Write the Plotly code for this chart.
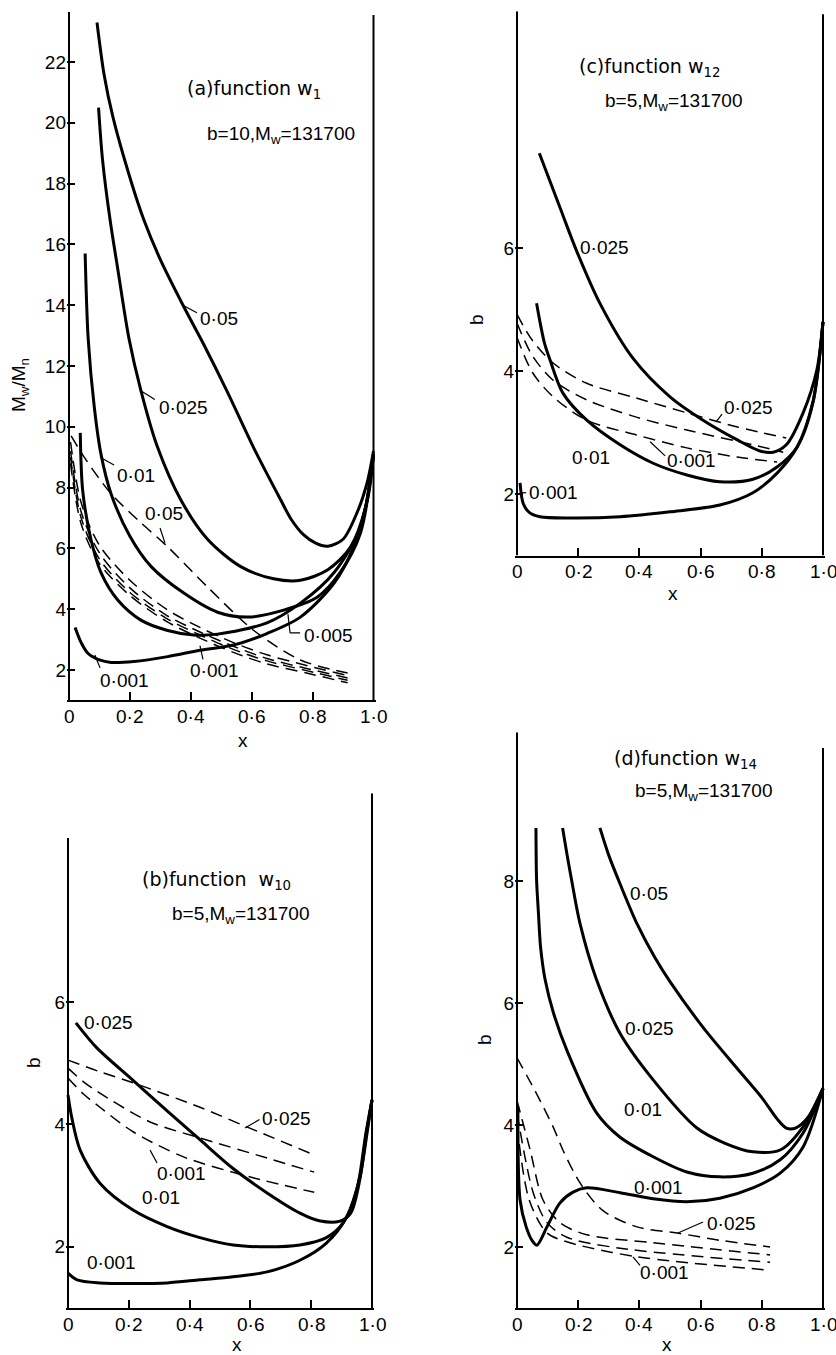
import plotly.graph_objects as go

W, H = 836, 1355
NUM_FONT = "Liberation Sans, Arial, sans-serif"
TTL_FONT = "DejaVu Sans, sans-serif"
FS = 19

# ---------------- tick labels ----------------
x_tickvals = [0.2, 0.4, 0.6, 0.8]
x_labels_vals = [0, 0.2, 0.4, 0.6, 0.8, 1.0]
x_labels_text = ["0", "0·2", "0·4", "0·6", "0·8", "1·0"]
a_yticks = [2, 4, 6, 8, 10, 12, 14, 16, 18, 20, 22]
c_yticks = [2, 4, 6]
b_yticks = [2, 4, 6]
d_yticks = [2, 4, 6, 8]

# ---------------- panel (a): function w1 ----------------
a_s005_x = [0.092, 0.115, 0.144, 0.203, 0.246, 0.30, 0.377, 0.443, 0.52, 0.607, 0.695, 0.73, 0.77, 0.81, 0.85, 0.90, 0.947, 0.98, 1.0]
a_s005_y = [23.3, 21.6, 20.2, 18.1, 16.8, 15.5, 13.95, 12.7, 11.15, 9.3, 7.6, 6.95, 6.45, 6.17, 6.07, 6.3, 7.2, 8.2, 9.2]
a_s0025_x = [0.097, 0.11, 0.135, 0.16, 0.197, 0.236, 0.29, 0.367, 0.455, 0.564, 0.672, 0.76, 0.85, 0.925, 0.98, 1.0]
a_s0025_y = [20.5, 18.8, 16.8, 15.2, 12.9, 11.2, 9.35, 7.6, 6.3, 5.4, 5.0, 4.95, 5.3, 6.05, 7.6, 9.1]
a_s001_x = [0.053, 0.063, 0.083, 0.105, 0.138, 0.2, 0.27, 0.377, 0.488, 0.587, 0.705, 0.816, 0.89, 0.957, 1.0]
a_s001_y = [15.7, 12.9, 10.65, 9.1, 7.8, 6.4, 5.4, 4.53, 3.9, 3.74, 3.97, 4.4, 5.2, 6.5, 9.1]
a_s0005_x = [0.037, 0.045, 0.072, 0.105, 0.16, 0.236, 0.324, 0.41, 0.488, 0.65, 0.76, 0.87, 0.957, 1.0]
a_s0005_y = [9.8, 7.9, 6.3, 5.2, 4.3, 3.64, 3.3, 3.15, 3.18, 3.55, 4.2, 5.2, 6.7, 9.1]
a_s0001_x = [0.02, 0.04, 0.062, 0.1, 0.138, 0.213, 0.324, 0.43, 0.54, 0.65, 0.76, 0.87, 0.935, 0.975, 1.0]
a_s0001_y = [3.4, 2.9, 2.55, 2.33, 2.25, 2.28, 2.44, 2.65, 2.82, 3.2, 3.74, 4.85, 6.05, 7.4, 9.1]

a_d005_x = [0.007, 0.05, 0.138, 0.23, 0.324, 0.455, 0.607, 0.76, 0.915]
a_d005_y = [9.7, 9.0, 7.8, 6.9, 6.05, 4.73, 3.3, 2.33, 1.9]
a_d_x = [0.005, 0.04, 0.1, 0.2, 0.32, 0.43, 0.54, 0.65, 0.78, 0.915]
a_d0025_y = [9.5, 7.5, 6.1, 4.95, 4.0, 3.4, 2.9, 2.5, 2.15, 1.82]
a_d001_y = [9.2, 7.2, 5.85, 4.7, 3.8, 3.25, 2.78, 2.38, 2.05, 1.74]
a_d0005_y = [9.0, 7.0, 5.65, 4.55, 3.7, 3.15, 2.68, 2.3, 1.98, 1.66]
a_d0001_y = [8.8, 6.8, 5.5, 4.45, 3.6, 3.05, 2.58, 2.2, 1.9, 1.58]

# ---------------- panel (c): function w12 ----------------
c_s0025_x = [0.073, 0.141, 0.195, 0.271, 0.38, 0.5, 0.608, 0.72, 0.794, 0.837, 0.88, 0.935, 0.98, 1.0]
c_s0025_y = [7.54, 6.65, 5.95, 5.1, 4.2, 3.58, 3.2, 2.88, 2.7, 2.68, 2.8, 3.32, 4.02, 4.8]
c_s001_x = [0.064, 0.075, 0.09, 0.108, 0.15, 0.228, 0.337, 0.445, 0.555, 0.663, 0.771, 0.85, 0.915, 0.967, 1.0]
c_s001_y = [5.1, 4.8, 4.45, 4.18, 3.64, 3.2, 2.8, 2.5, 2.31, 2.2, 2.24, 2.44, 2.76, 3.48, 4.8]
c_s0001_x = [0.01, 0.02, 0.04, 0.075, 0.173, 0.337, 0.5, 0.663, 0.771, 0.85, 0.915, 0.967, 1.0]
c_s0001_y = [2.18, 1.85, 1.7, 1.63, 1.61, 1.63, 1.71, 1.82, 2.02, 2.34, 2.76, 3.5, 4.8]

c_d0025_x = [0.0, 0.05, 0.118, 0.228, 0.39, 0.555, 0.72, 0.88]
c_d0025_y = [4.92, 4.5, 4.13, 3.8, 3.56, 3.32, 3.09, 2.91]
c_d001_x = [0.0, 0.05, 0.118, 0.228, 0.39, 0.555, 0.771, 0.87]
c_d001_y = [4.78, 4.25, 3.85, 3.53, 3.25, 3.04, 2.8, 2.68]
c_d0001_x = [0.0, 0.05, 0.118, 0.228, 0.39, 0.555, 0.72, 0.85]
c_d0001_y = [4.55, 3.98, 3.58, 3.2, 2.96, 2.75, 2.6, 2.52]

# ---------------- panel (b): function w10 ----------------
b_s0025_x = [0.026, 0.095, 0.214, 0.326, 0.434, 0.543, 0.655, 0.763, 0.83, 0.895, 0.93, 0.96, 0.98, 1.0]
b_s0025_y = [5.66, 5.25, 4.72, 4.22, 3.75, 3.28, 2.88, 2.55, 2.42, 2.42, 2.55, 3.1, 3.8, 4.4]
b_s001_x = [0.0, 0.012, 0.04, 0.105, 0.214, 0.326, 0.434, 0.543, 0.655, 0.763, 0.85, 0.905, 0.95, 0.98, 1.0]
b_s001_y = [4.48, 4.12, 3.58, 3.04, 2.6, 2.33, 2.15, 2.03, 2.0, 2.03, 2.15, 2.39, 2.93, 3.86, 4.4]
b_s0001_x = [0.0, 0.03, 0.105, 0.214, 0.326, 0.434, 0.543, 0.655, 0.763, 0.85, 0.917, 0.96, 0.985, 1.0]
b_s0001_y = [1.57, 1.46, 1.41, 1.4, 1.41, 1.46, 1.51, 1.59, 1.78, 2.06, 2.49, 3.14, 3.9, 4.4]

b_d0025_x = [0.0, 0.105, 0.214, 0.434, 0.588, 0.81]
b_d0025_y = [5.05, 4.86, 4.68, 4.28, 3.96, 3.5]
b_d001_x = [0.0, 0.05, 0.105, 0.27, 0.434, 0.655, 0.81]
b_d001_y = [4.92, 4.7, 4.51, 4.04, 3.78, 3.45, 3.22]
b_d0001_x = [0.0, 0.05, 0.105, 0.214, 0.38, 0.6, 0.81]
b_d0001_y = [4.76, 4.5, 4.28, 3.88, 3.47, 3.14, 2.89]

# ---------------- panel (d): function w14 ----------------
d_s005_x = [0.271, 0.30, 0.337, 0.392, 0.45, 0.5, 0.608, 0.719, 0.80, 0.85, 0.88, 0.91, 0.95, 1.0]
d_s005_y = [8.87, 8.42, 7.95, 7.3, 6.75, 6.35, 5.6, 4.93, 4.45, 4.1, 3.95, 3.95, 4.12, 4.6]
d_s0025_x = [0.149, 0.164, 0.179, 0.206, 0.26, 0.337, 0.445, 0.588, 0.68, 0.771, 0.86, 0.935, 1.0]
d_s0025_y = [8.87, 8.42, 8.0, 7.3, 6.38, 5.5, 4.74, 3.95, 3.7, 3.56, 3.59, 3.97, 4.6]
d_s001_x = [0.062, 0.064, 0.070, 0.077, 0.092, 0.119, 0.165, 0.26, 0.337, 0.445, 0.555, 0.663, 0.771, 0.86, 0.935, 1.0]
d_s001_y = [8.87, 8.02, 7.48, 6.92, 6.38, 5.84, 5.2, 4.2, 3.8, 3.48, 3.23, 3.15, 3.21, 3.43, 3.87, 4.6]
d_s0001_x = [0.003, 0.01, 0.03, 0.05, 0.065, 0.098, 0.14, 0.183, 0.228, 0.337, 0.445, 0.555, 0.663, 0.771, 0.86, 0.935, 1.0]
d_s0001_y = [4.3, 2.77, 2.33, 2.1, 2.03, 2.33, 2.72, 2.9, 2.97, 2.89, 2.79, 2.74, 2.8, 2.97, 3.21, 3.64, 4.6]

d_d0025_x = [0.0, 0.06, 0.118, 0.15, 0.206, 0.28, 0.392, 0.523, 0.663, 0.827]
d_d0025_y = [5.1, 4.55, 3.97, 3.59, 3.05, 2.6, 2.33, 2.23, 2.11, 2.0]
d_d001_x = [0.0, 0.043, 0.085, 0.14, 0.228, 0.445, 0.827]
d_d001_y = [4.4, 3.59, 2.77, 2.4, 2.2, 2.07, 1.87]
d_d0005_x = [0.0, 0.053, 0.098, 0.163, 0.337, 0.827]
d_d0005_y = [4.2, 2.89, 2.4, 2.16, 1.98, 1.75]
d_d0001_x = [0.0, 0.04, 0.098, 0.173, 0.392, 0.827]
d_d0001_y = [4.0, 2.77, 2.23, 2.07, 1.84, 1.62]

# ---------------- panel geometry (pixels) ----------------
PAD = 2.0
panels = {
    "a": dict(ax="", x0=69, x1=373.5, yb=700.4, k=30.4, ytop=23.65, ltop=23.65, rtop=23.55, yticks=a_yticks),
    "c": dict(ax="2", x0=517, x1=823, yb=555.5, k=61.5, ytop=9.85, ltop=9.85, rtop=9.8, yticks=c_yticks),
    "b": dict(ax="3", x0=68, x1=372, yb=1308, k=61.2, ytop=9.41, ltop=8.68, rtop=9.41, yticks=b_yticks),
    "d": dict(ax="4", x0=517, x1=823, yb=1308, k=61.0, ytop=10.44, ltop=10.44, rtop=10.18, yticks=d_yticks),
}

fig = go.Figure()


def add_line(panel, x, y, dashed=False):
    ax = panels[panel]["ax"]
    fig.add_trace(go.Scatter(
        x=x, y=y, mode="lines", xaxis="x" + ax, yaxis="y" + ax,
        line=dict(color="black", width=1.5 if dashed else 3.0,
                  dash="12px,7px" if dashed else "solid",
                  shape="spline", smoothing=0.85),
        showlegend=False, hoverinfo="skip"))


for xs, ys in [(a_s005_x, a_s005_y), (a_s0025_x, a_s0025_y), (a_s001_x, a_s001_y),
               (a_s0005_x, a_s0005_y), (a_s0001_x, a_s0001_y)]:
    add_line("a", xs, ys)
for ys in [a_d0025_y, a_d001_y, a_d0005_y, a_d0001_y]:
    add_line("a", a_d_x, ys, dashed=True)
add_line("a", a_d005_x, a_d005_y, dashed=True)

for xs, ys in [(c_s0025_x, c_s0025_y), (c_s001_x, c_s001_y), (c_s0001_x, c_s0001_y)]:
    add_line("c", xs, ys)
for xs, ys in [(c_d0025_x, c_d0025_y), (c_d001_x, c_d001_y), (c_d0001_x, c_d0001_y)]:
    add_line("c", xs, ys, dashed=True)

for xs, ys in [(b_s0025_x, b_s0025_y), (b_s001_x, b_s001_y), (b_s0001_x, b_s0001_y)]:
    add_line("b", xs, ys)
for xs, ys in [(b_d0025_x, b_d0025_y), (b_d001_x, b_d001_y), (b_d0001_x, b_d0001_y)]:
    add_line("b", xs, ys, dashed=True)

for xs, ys in [(d_s005_x, d_s005_y), (d_s0025_x, d_s0025_y), (d_s001_x, d_s001_y), (d_s0001_x, d_s0001_y)]:
    add_line("d", xs, ys)
for xs, ys in [(d_d0025_x, d_d0025_y), (d_d001_x, d_d001_y), (d_d0005_x, d_d0005_y), (d_d0001_x, d_d0001_y)]:
    add_line("d", xs, ys, dashed=True)

layout = dict(width=W, height=H, margin=dict(l=0, r=0, t=0, b=0),
              paper_bgcolor="white", plot_bgcolor="white", showlegend=False)
shapes = []
annotations = []

for key, p in panels.items():
    ax = p["ax"]
    span = p["x1"] - p["x0"]
    padu = PAD / span
    ytop_px = p["yb"] - (p["ytop"] - 1.0) * p["k"]
    layout["xaxis" + ax] = dict(
        domain=[(p["x0"] - PAD) / W, (p["x1"] + PAD) / W], range=[-padu, 1 + padu],
        anchor="y" + ax, showgrid=False, zeroline=False,
        showline=True, linecolor="black", linewidth=2,
        ticks="inside", ticklen=8, tickwidth=1.5, tickcolor="black",
        tickvals=x_tickvals, showticklabels=False, fixedrange=True)
    layout["yaxis" + ax] = dict(
        domain=[1 - p["yb"] / H, 1 - ytop_px / H], range=[1.0, p["ytop"]],
        anchor="x" + ax, showgrid=False, zeroline=False, showline=False,
        ticks="inside", ticklen=8, tickwidth=1.5, tickcolor="black",
        tickvals=p["yticks"], ticktext=[str(v) for v in p["yticks"]],
        tickfont=dict(family=NUM_FONT, size=FS, color="black"), fixedrange=True)
    xr, yr = "x" + ax, "y" + ax
    shapes.append(dict(type="line", xref=xr, yref=yr, x0=0, x1=0, y0=1.0, y1=p["ltop"],
                       line=dict(color="black", width=2)))
    shapes.append(dict(type="line", xref=xr, yref=yr, x0=1, x1=1, y0=1.0, y1=p["rtop"],
                       line=dict(color="black", width=2)))
    for v, t in zip(x_labels_vals, x_labels_text):
        annotations.append(dict(xref=xr, yref="paper", x=v, y=1 - (p["yb"] + 16) / H,
                                text=t, showarrow=False, xanchor="center", yanchor="middle",
                                font=dict(family=NUM_FONT, size=FS, color="black")))

# curve labels: (panel, text, x, y)
curve_labels = [
    ("a", "0·05", 0.425, 13.55), ("a", "0·025", 0.289, 10.65), ("a", "0·01", 0.151, 8.41),
    ("a", "0·05", 0.243, 7.16), ("a", "0·005", 0.765, 3.15), ("a", "0·001", 0.391, 2.0),
    ("a", "0·001", 0.095, 1.67),
    ("c", "0·025", 0.2, 6.0), ("c", "0·025", 0.67, 3.41), ("c", "0·01", 0.173, 2.6),
    ("c", "0·001", 0.484, 2.55), ("c", "0·001", 0.033, 2.02),
    ("b", "0·025", 0.046, 5.66), ("b", "0·025", 0.632, 4.1), ("b", "0·001", 0.286, 3.2),
    ("b", "0·01", 0.237, 2.81), ("b", "0·001", 0.056, 1.74),
    ("d", "0·05", 0.363, 7.8), ("d", "0·025", 0.346, 5.59), ("d", "0·01", 0.343, 4.25),
    ("d", "0·001", 0.376, 2.98), ("d", "0·025", 0.614, 2.39), ("d", "0·001", 0.395, 1.59),
]
for pn, t, x, y in curve_labels:
    ax = panels[pn]["ax"]
    annotations.append(dict(xref="x" + ax, yref="y" + ax, x=x, y=y, text=t, showarrow=False,
                            xanchor="left", yanchor="middle",
                            font=dict(family=NUM_FONT, size=FS, color="black")))

leaders = [
    ("a", [(0.374, 14.0), (0.42, 13.75)]),
    ("a", [(0.233, 11.2), (0.282, 10.9)]),
    ("a", [(0.102, 9.0), (0.148, 8.74)]),
    ("a", [(0.315, 6.18), (0.299, 6.67)]),
    ("a", [(0.719, 3.84), (0.726, 3.22), (0.759, 3.22)]),
    ("a", [(0.43, 2.8), (0.44, 2.35)]),
    ("a", [(0.085, 2.49), (0.102, 2.07)]),
    ("c", [(0.65, 3.17), (0.67, 3.3)]),
    ("c", [(0.435, 2.85), (0.484, 2.62)]),
    ("c", [(0.012, 2.02), (0.03, 2.02)]),
    ("b", [(0.582, 3.94), (0.63, 4.08)]),
    ("b", [(0.27, 3.58), (0.293, 3.37)]),
    ("d", [(0.526, 2.23), (0.608, 2.41)]),
    ("d", [(0.379, 1.84), (0.402, 1.7)]),
]
for pn, pts in leaders:
    ax = panels[pn]["ax"]
    for (x0, y0), (x1, y1) in zip(pts[:-1], pts[1:]):
        shapes.append(dict(type="line", xref="x" + ax, yref="y" + ax, x0=x0, y0=y0, x1=x1, y1=y1,
                           line=dict(color="black", width=1.2)))


def pa(px, py, text, font, size, angle=0, xanchor="left"):
    annotations.append(dict(xref="paper", yref="paper", x=px / W, y=1 - py / H, text=text,
                            showarrow=False, xanchor=xanchor, yanchor="middle", textangle=angle,
                            font=dict(family=font, size=size, color="black")))


pa(185, 90, "(a)function w<sub>1</sub>", TTL_FONT, 19)
pa(205, 135, "b=10,M<sub>w</sub>=131700", NUM_FONT, FS)
pa(577, 68, "(c)function w<sub>12</sub>", TTL_FONT, 19)
pa(603, 102, "b=5,M<sub>w</sub>=131700", NUM_FONT, FS)
pa(140, 880, "(b)function  w<sub>10</sub>", TTL_FONT, 19)
pa(170, 915, "b=5,M<sub>w</sub>=131700", NUM_FONT, FS)
pa(612, 760, "(d)function w<sub>14</sub>", TTL_FONT, 19)
pa(633, 792, "b=5,M<sub>w</sub>=131700", NUM_FONT, FS)

pa(20, 385, "M<sub>w</sub>/M<sub>n</sub>", NUM_FONT, FS, angle=-90, xanchor="center")
pa(476, 320, "b", NUM_FONT, FS, angle=-90, xanchor="center")
pa(33, 1063, "b", NUM_FONT, FS, angle=-90, xanchor="center")
pa(484, 1040, "b", NUM_FONT, FS, angle=-90, xanchor="center")
pa(243, 740, "x", NUM_FONT, FS, xanchor="center")
pa(673, 593, "x", NUM_FONT, FS, xanchor="center")
pa(237, 1344, "x", NUM_FONT, FS, xanchor="center")
pa(667, 1344, "x", NUM_FONT, FS, xanchor="center")

layout["shapes"] = shapes
layout["annotations"] = annotations
fig.update_layout(**layout)
fig.write_html("out.html")
